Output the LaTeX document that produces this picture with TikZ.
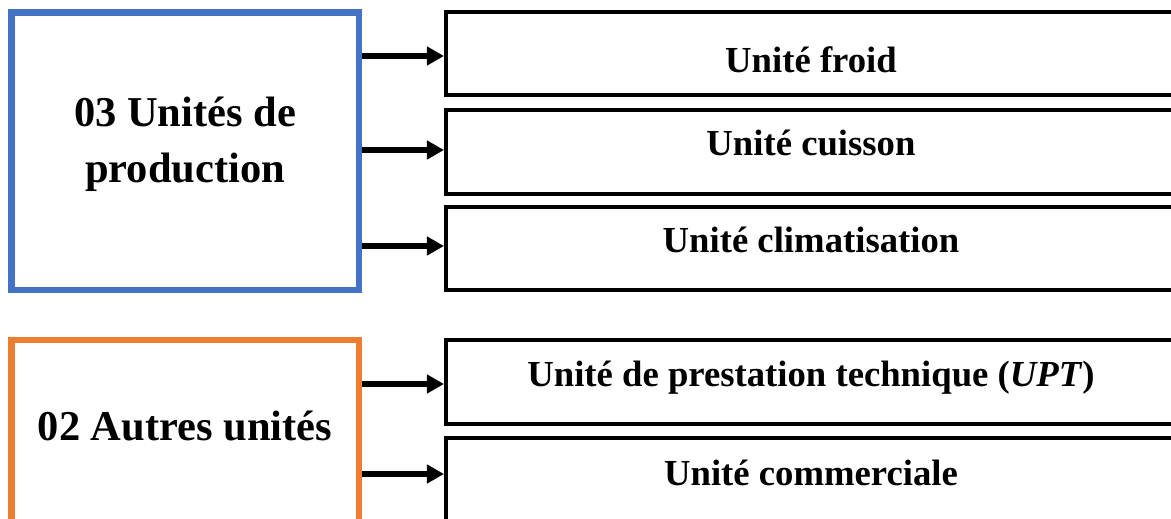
\documentclass[tikz,border=0pt]{standalone}
\usepackage{fontspec}
\setmainfont{Liberation Serif}
\usetikzlibrary{arrows.meta}
\definecolor{boxblue}{HTML}{4472C4}
\definecolor{boxorange}{HTML}{ED7D31}
\tikzset{
  leftbox/.style={draw, line width=6.5bp, minimum width=347.5bp, inner sep=0pt},
  unitbox/.style={draw=black, line width=4bp, minimum width=730bp, inner sep=0pt},
  bigtxt/.style={anchor=base, inner sep=0pt, font=\fontsize{42.5bp}{50bp}\selectfont\bfseries},
  unittxt/.style={anchor=base, inner sep=0pt, font=\fontsize{36.7bp}{44bp}\selectfont\bfseries},
  arr/.style={line width=6.5bp, -{Triangle[length=17bp,width=18bp]}}
}
\begin{document}
\begin{tikzpicture}[x=1bp,y=-1bp]
\useasboundingbox (0,0) rectangle (1171,519);
\clip (0,0) rectangle (1171,519);
% left boxes
\node[leftbox, draw=boxblue, minimum height=277.5bp] (prod) at (185.25,151.25) {};
\node[leftbox, draw=boxorange, minimum height=220bp] (autres) at (185.25,450) {};
\node[bigtxt] (t1a) at (185,127) {03 Unités de};
\node[bigtxt] (t1b) at (185,183) {production};
\node[bigtxt] (t2) at (185,440) {02 Autres unités};
% right boxes
\node[unitbox, minimum height=83.5bp] (b1) at (811,53.75) {};
\node[unitbox, minimum height=84bp] (b2) at (811,152) {};
\node[unitbox, minimum height=83bp] (b3) at (811,248.5) {};
\node[unitbox, minimum height=84bp] (b4) at (811,382) {};
\node[unitbox, minimum height=120bp] (b5) at (811,498) {};
\node[unittxt] (u1) at (811,73) {Unité froid};
\node[unittxt] (u2) at (811,156) {Unité cuisson};
\node[unittxt] (u3) at (811,253) {Unité climatisation};
\node[unittxt] (u4) at (811,387) {Unité de prestation technique (\textit{UPT})};
\node[unittxt] (u5) at (811,485) {Unité commerciale};
% arrows
\draw[arr] (prod.east |- 0,56) -- (b1.west |- 0,56);
\draw[arr] (prod.east |- 0,150) -- (b2.west |- 0,150);
\draw[arr] (prod.east |- 0,246) -- (b3.west |- 0,246);
\draw[arr] (autres.east |- 0,384) -- (b4.west |- 0,384);
\draw[arr] (autres.east |- 0,474) -- (b5.west |- 0,474);
\end{tikzpicture}
\end{document}
